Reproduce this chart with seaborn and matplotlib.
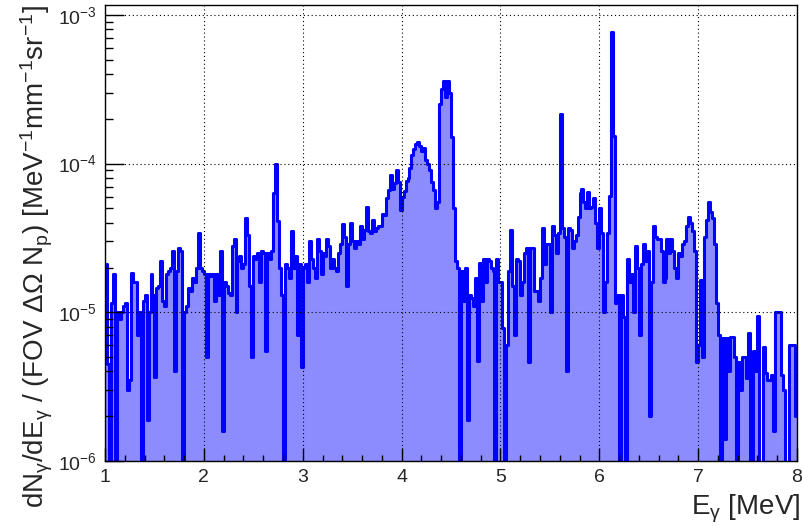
import numpy as np
import pandas as pd
import matplotlib
matplotlib.use("Agg")
import matplotlib.pyplot as plt
import seaborn as sns
from matplotlib.ticker import LogLocator, MultipleLocator, NullFormatter

# Bin contents in units of 1e-5 MeV^-1 mm^-1 sr^-1, bins of 0.02 MeV from 1 to 8 MeV
y_1to2 = [2.1, 0.45, 0, 1.15, 1.8, 0, 1.0, 0.9, 1.0, 1.1,
          1.15, 0.3, 0.35, 1.85, 1.6, 1.6, 0.7, 1.0, 0, 1.2,
          1.3, 0.19, 1.0, 1.8, 1.3, 0.37, 1.45, 1.5, 2.2, 1.2,
          1.1, 1.8, 1.9, 2.0, 2.6, 0.4, 1.9, 2.7, 2.6, 0,
          1.0, 1.1, 1.45, 1.4, 1.7, 1.6, 2.0, 3.4, 2.0, 1.9]
y_2to3 = [1.8, 0.5, 1.8, 1.75, 1.8, 1.2, 1.8, 1.3, 2.6, 0.16,
          1.6, 1.5, 1.35, 1.3, 2.8, 3.1, 1.0, 2.2, 2.4, 2.0,
          2.1, 4.3, 3.3, 1.5, 0.5, 2.4, 2.3, 2.5, 1.6, 2.6,
          2.5, 0.55, 2.5, 2.3, 2.6, 6.3, 10.0, 4.1, 2.0, 1.3,
          0, 2.1, 2.0, 1.7, 3.5, 2.0, 2.4, 0.7, 2.1, 0.43]
y_3to4 = [2.0, 2.1, 1.6, 3.0, 2.3, 2.0, 1.7, 3.1, 2.6, 1.8,
          2.5, 2.4, 3.1, 2.8, 2.0, 2.3, 2.0, 1.9, 2.5, 2.9,
          3.9, 3.2, 1.5, 2.9, 4.0, 3.0, 2.7, 3.0, 2.9, 3.8,
          3.1, 3.6, 5.1, 3.5, 3.4, 4.2, 3.5, 3.7, 3.8, 3.8,
          4.6, 4.5, 5.9, 6.6, 8.4, 6.8, 7.4, 9.0, 7.5, 4.9]
y_4to5 = [6.0, 6.5, 7.7, 8.0, 9.4, 11.5, 12.5, 13.6, 14.0, 13.2,
          12.2, 12.8, 10.5, 10.0, 9.0, 7.5, 6.6, 5.0, 5.5, 25.0,
          32.0, 36.0, 28.0, 36.0, 30.0, 15.0, 5.0, 2.2, 2.0, 0,
          1.9, 1.2, 2.0, 0.19, 1.3, 1.25, 1.1, 1.7, 0.47, 2.15,
          1.2, 2.3, 1.6, 2.3, 2.2, 2.0, 1.9, 0, 2.3, 1.6]
y_5to6 = [1.6, 0.79, 0, 0.6, 1.9, 3.6, 1.5, 0.7, 2.3, 2.2,
          1.3, 1.6, 2.5, 2.7, 0.46, 2.7, 2.7, 1.4, 1.4, 1.2,
          1.7, 3.7, 2.1, 2.9, 2.9, 1.0, 3.8, 3.3, 2.5, 3.4,
          21.6, 3.7, 3.2, 0.4, 3.7, 3.6, 2.7, 3.0, 3.3, 4.4,
          6.3, 6.8, 5.5, 5.0, 6.4, 5.0, 5.1, 5.9, 4.0, 2.7]
y_6to7 = [5.0, 3.4, 1.0, 1.6, 3.4, 6.1, 77.0, 15.4, 1.15, 1.3,
          0, 1.3, 0.93, 0, 2.3, 1.6, 1.8, 1.0, 2.8, 2.0,
          0.7, 2.1, 2.9, 2.2, 2.6, 0.2, 1.6, 3.8, 3.2, 3.1,
          3.1, 2.6, 1.6, 1.7, 3.1, 2.5, 3.1, 2.6, 2.0, 1.7,
          2.5, 2.4, 2.9, 3.0, 3.8, 4.4, 4.0, 3.5, 2.6, 0.46]
y_7to8 = [0.6, 1.65, 0.5, 3.2, 4.2, 5.5, 4.7, 4.3, 2.9, 1.15,
          0.7, 0, 0.67, 0.14, 0.67, 0.4, 0.68, 0.68, 0.5, 0,
          0.46, 0.3, 0.5, 0.5, 0.36, 0.73, 0, 0, 0.55, 0.4,
          0.94, 0, 0, 0.58, 0.39, 0.35, 0.35, 0.38, 0.16, 1.0,
          1.0, 1.0, 0.38, 0.3, 0, 0, 0.6, 0.6, 0.6, 0.2]

counts = np.concatenate([y_1to2, y_2to3, y_3to4, y_4to5, y_5to6, y_6to7, y_7to8]) * 1e-5
nbins = len(counts)
width = 7.0 / nbins
df = pd.DataFrame({"E": 1.0 + width * (np.arange(nbins) + 0.5), "w": counts})

sns.set_theme(style="white")
plt.rcParams["font.family"] = ["Liberation Sans", "DejaVu Sans"]
plt.rcParams["mathtext.fontset"] = "custom"
plt.rcParams["mathtext.rm"] = "Liberation Sans"
plt.rcParams["mathtext.it"] = "Liberation Sans:italic"
plt.rcParams["mathtext.bf"] = "Liberation Sans:bold"

fig = plt.figure(figsize=(8.03, 5.26), dpi=100)
ax = fig.add_axes([0.1308, 0.1236, 0.8617, 0.8669])

# filled area, then the outline on top
sns.histplot(data=df, x="E", weights="w", bins=nbins, binrange=(1, 8), element="step",
             fill=True, color="#8c8cff", alpha=1, linewidth=0, ax=ax)
sns.histplot(data=df, x="E", weights="w", bins=nbins, binrange=(1, 8), element="step",
             fill=False, color="#0000ff", linewidth=2.2, ax=ax)

ax.set_yscale("log")
ax.set_xlim(1, 8)
ax.set_ylim(1e-6, 1.167e-3)

ax.xaxis.set_major_locator(MultipleLocator(1))
ax.xaxis.set_minor_locator(MultipleLocator(0.2))
ax.yaxis.set_major_locator(LogLocator(base=10))
ax.yaxis.set_minor_locator(LogLocator(base=10, subs=np.arange(2, 10)))
ax.yaxis.set_minor_formatter(NullFormatter())

ax.tick_params(axis="x", which="major", direction="in", length=9.5, width=1, labelsize=14, pad=6, color="black")
ax.tick_params(axis="x", which="minor", direction="in", length=4.5, width=1, color="black")
ax.tick_params(axis="y", which="major", direction="in", length=14, width=1, labelsize=14, pad=6, color="black")
ax.tick_params(axis="y", which="minor", direction="in", length=6, width=1, color="black")
ax.tick_params(bottom=True, left=True, top=False, right=False, which="both")

ax.grid(True, which="major", color="black", linestyle=(0, (1, 2.5)), linewidth=0.8)
ax.set_axisbelow(False)
for s in ax.spines.values():
    s.set_color("black")
    s.set_linewidth(1)

ax.set_xlabel(r"E$_{\mathrm{γ}}$ [MeV]", fontsize=20, loc="right")
ax.set_ylabel(r"dN$_{\mathrm{γ}}$/dE$_{\mathrm{γ}}$ / (FOV $\mathrm{ΔΩ}$ N$_{\mathrm{p}}$) [MeV$^{\mathrm{-1}}$mm$^{\mathrm{-1}}$sr$^{\mathrm{-1}}$]",
              fontsize=20, loc="top")
ax.xaxis.set_label_coords(1.005, -0.07)
ax.yaxis.set_label_coords(-0.072, 1.0)

fig.savefig("out.png", dpi=100)
